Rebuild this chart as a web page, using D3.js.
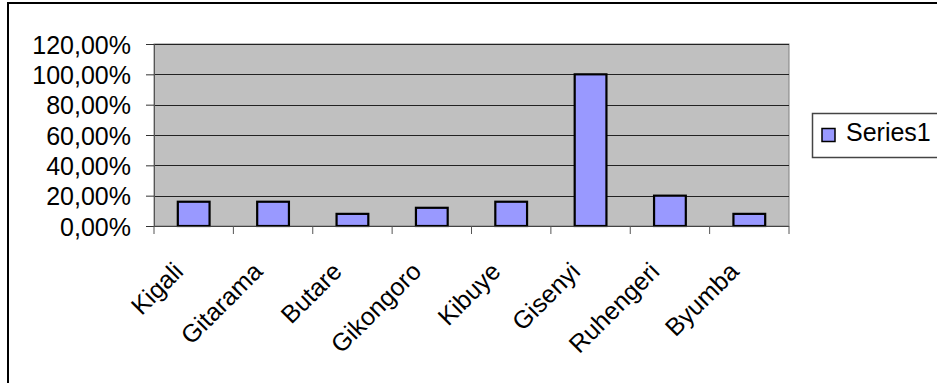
<!DOCTYPE html>
<html>
<head>
<meta charset="utf-8">
<script src="https://cdn.jsdelivr.net/npm/d3@7"></script>
<style>
  body { margin: 0; background: #fff; }
  svg { display: block; font-family: Arial, "Liberation Sans", sans-serif; }
</style>
</head>
<body>
<svg></svg>
<script>
// Chart data
const categories = ["Kigali", "Gitarama", "Butare", "Gikongoro", "Kibuye", "Gisenyi", "Ruhengeri", "Byumba"];
const values = [0.16, 0.16, 0.08, 0.12, 0.16, 1.00, 0.20, 0.08];
const yTicks = [0, 0.2, 0.4, 0.6, 0.8, 1.0, 1.2];
const seriesName = "Series1";

const width = 937;
const height = 383;
const plot = { left: 154, right: 789, top: 44, bottom: 226 };
const fontSize = 25;

const svg = d3.select("svg").attr("width", width).attr("height", height);

// Outer chart frame (runs off the right and bottom edges)
svg.append("rect")
  .attr("x", 8).attr("y", 3)
  .attr("width", 960).attr("height", 420)
  .attr("fill", "#fff")
  .attr("stroke", "#000")
  .attr("stroke-width", 2);

// Comma decimal format, e.g. 120,00%
const locale = d3.formatLocale({ decimal: ",", thousands: ".", grouping: [3], currency: ["", " €"] });
const pct = locale.format(".2%");

// Scales
const y = d3.scaleLinear().domain([0, 1.2]).range([plot.bottom, plot.top]);
const x = d3.scaleBand()
  .domain(categories)
  .range([plot.left, plot.right])
  .paddingInner(0.6)
  .paddingOuter(0.3);
const xCat = d3.scaleBand().domain(categories).range([plot.left, plot.right]);

// Plot area
svg.append("rect")
  .attr("x", plot.left).attr("y", plot.top)
  .attr("width", plot.right - plot.left)
  .attr("height", plot.bottom - plot.top)
  .attr("fill", "#c0c0c0")
  .attr("stroke", "#808080")
  .attr("stroke-width", 1);

// Gridlines
svg.append("g")
  .selectAll("line")
  .data(yTicks.filter((d) => d > 0))
  .join("line")
  .attr("x1", plot.left).attr("x2", plot.right)
  .attr("y1", (d) => Math.round(y(d)) + 0.5)
  .attr("y2", (d) => Math.round(y(d)) + 0.5)
  .attr("stroke", "#222")
  .attr("stroke-width", 1);

// Bars
svg.append("g")
  .selectAll("rect")
  .data(values)
  .join("rect")
  .attr("x", (d, i) => x(categories[i]))
  .attr("y", (d) => y(d))
  .attr("width", x.bandwidth())
  .attr("height", (d) => y(0) - y(d))
  .attr("fill", "#9999ff")
  .attr("stroke", "#000")
  .attr("stroke-width", 2.2);

// Y axis
const yAxis = svg.append("g")
  .attr("transform", `translate(${plot.left},0)`)
  .call(d3.axisLeft(y).tickValues(yTicks).tickFormat(pct).tickSize(8).tickPadding(15));
yAxis.select(".domain").attr("stroke", "#555");
yAxis.selectAll(".tick line").attr("stroke", "#333");
yAxis.selectAll(".tick text")
  .attr("font-size", fontSize)
  .attr("font-family", "Arial, 'Liberation Sans', sans-serif")
  .attr("fill", "#000")
  .attr("dy", "0.36em");

// X axis line and ticks at category boundaries
const xg = svg.append("g");
xg.append("line")
  .attr("x1", plot.left).attr("x2", plot.right)
  .attr("y1", plot.bottom + 0.5).attr("y2", plot.bottom + 0.5)
  .attr("stroke", "#444");
const bounds = categories.map((d) => xCat(d)).concat([plot.right]);
xg.selectAll("line.tick")
  .data(bounds)
  .join("line")
  .attr("class", "tick")
  .attr("x1", (d) => d).attr("x2", (d) => d)
  .attr("y1", plot.bottom).attr("y2", plot.bottom + 8)
  .attr("stroke", "#555");

// Rotated category labels
xg.selectAll("text")
  .data(categories)
  .join("text")
  .attr("transform", (d) => `translate(${xCat(d) + xCat.bandwidth() / 2 - 9},${plot.bottom + 47}) rotate(-45)`)
  .attr("text-anchor", "end")
  .attr("font-size", fontSize)
  .attr("fill", "#000")
  .text((d) => d);

// Legend
const legend = svg.append("g");
legend.append("rect")
  .attr("x", 812.5).attr("y", 113.5)
  .attr("width", 160).attr("height", 44)
  .attr("fill", "#fff")
  .attr("stroke", "#444")
  .attr("stroke-width", 1.5);
legend.append("rect")
  .attr("x", 822).attr("y", 128.5)
  .attr("width", 13).attr("height", 13)
  .attr("fill", "#9999ff")
  .attr("stroke", "#000")
  .attr("stroke-width", 1.5);
legend.append("text")
  .attr("x", 846).attr("y", 141)
  .attr("font-size", fontSize)
  .attr("fill", "#000")
  .text(seriesName);
</script>
</body>
</html>
